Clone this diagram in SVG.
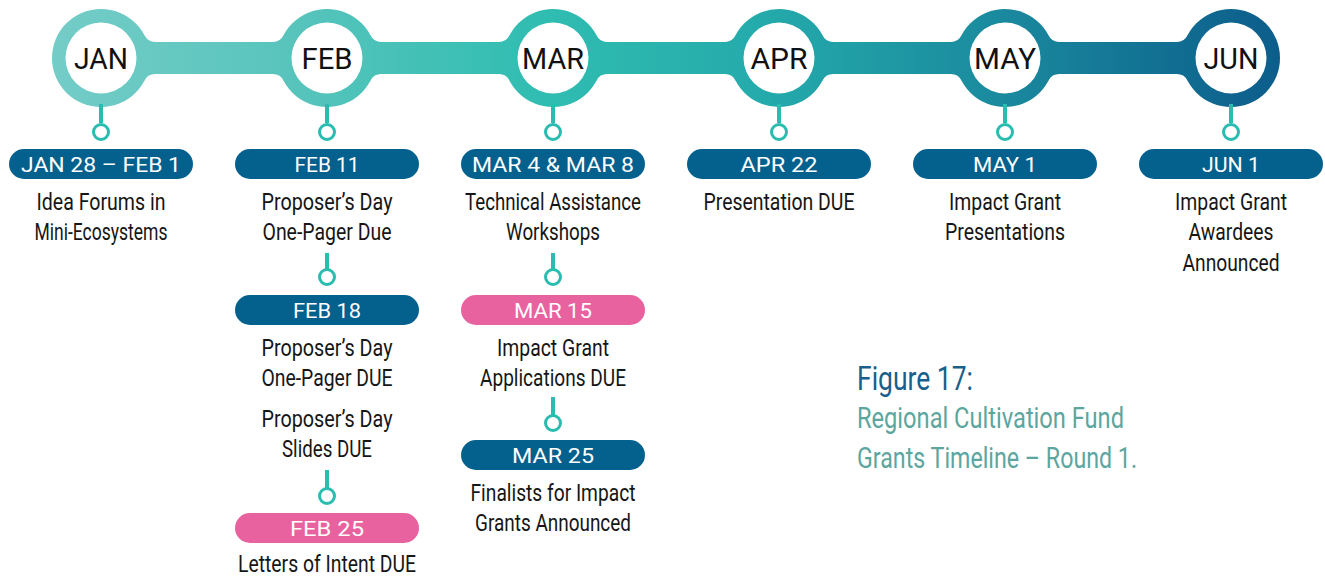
<svg xmlns="http://www.w3.org/2000/svg" width="1325" height="578" viewBox="0 0 1325 578">
<defs>
<linearGradient id="g" gradientUnits="userSpaceOnUse" x1="52" y1="0" x2="1280" y2="0">
<stop offset="0" stop-color="#74ccc7"/>
<stop offset="0.2" stop-color="#57c4bc"/>
<stop offset="0.4" stop-color="#30bdb1"/>
<stop offset="0.58" stop-color="#24aaab"/>
<stop offset="0.77" stop-color="#1a8a9e"/>
<stop offset="1" stop-color="#0c5d8b"/>
</linearGradient>
<style>
.month{font-family:"Roboto","Noto Sans",sans-serif;font-size:30px;fill:#111;text-anchor:middle}
.pill{fill:#04608d}
.pink{fill:#e8629f}
.pt{font-family:"Roboto","Noto Sans",sans-serif;font-weight:400;font-size:21px;fill:#fff;text-anchor:middle}
.bt{font-family:"Roboto","Liberation Sans",sans-serif;font-size:24px;fill:#161616;text-anchor:middle}
.stem{stroke:#2bbcb0;stroke-width:4;fill:none}
.dot{stroke:#2bbcb0;stroke-width:3;fill:#fff}
.inner{fill:#fff}
.fig{font-family:"Roboto","Liberation Sans",sans-serif}
</style>
</defs>

<g id="timeline-bar" fill="url(#g)">
<rect x="101" y="42" width="1130" height="32"/>
<circle cx="101" cy="58" r="49"/>
<circle cx="327" cy="58" r="49"/>
<circle cx="553" cy="58" r="49"/>
<circle cx="779" cy="58" r="49"/>
<circle cx="1005" cy="58" r="49"/>
<circle cx="1231" cy="58" r="49"/>
<path d="M144.53,35.51 A12,12 0 0 0 155.19,42 L101,42 Z M144.53,80.49 A12,12 0 0 1 155.19,74 L101,74 Z"/>
<path d="M370.53,35.51 A12,12 0 0 0 381.19,42 L327,42 Z M370.53,80.49 A12,12 0 0 1 381.19,74 L327,74 Z M283.47,35.51 A12,12 0 0 1 272.81,42 L327,42 Z M283.47,80.49 A12,12 0 0 0 272.81,74 L327,74 Z"/>
<path d="M596.53,35.51 A12,12 0 0 0 607.19,42 L553,42 Z M596.53,80.49 A12,12 0 0 1 607.19,74 L553,74 Z M509.47,35.51 A12,12 0 0 1 498.81,42 L553,42 Z M509.47,80.49 A12,12 0 0 0 498.81,74 L553,74 Z"/>
<path d="M822.53,35.51 A12,12 0 0 0 833.19,42 L779,42 Z M822.53,80.49 A12,12 0 0 1 833.19,74 L779,74 Z M735.47,35.51 A12,12 0 0 1 724.81,42 L779,42 Z M735.47,80.49 A12,12 0 0 0 724.81,74 L779,74 Z"/>
<path d="M1048.53,35.51 A12,12 0 0 0 1059.19,42 L1005,42 Z M1048.53,80.49 A12,12 0 0 1 1059.19,74 L1005,74 Z M961.47,35.51 A12,12 0 0 1 950.81,42 L1005,42 Z M961.47,80.49 A12,12 0 0 0 950.81,74 L1005,74 Z"/>
<path d="M1187.47,35.51 A12,12 0 0 1 1176.81,42 L1231,42 Z M1187.47,80.49 A12,12 0 0 0 1176.81,74 L1231,74 Z"/>
</g>

<g id="connectors">
<line class="stem" x1="101" y1="104" x2="101" y2="123"/>
<line class="stem" x1="327" y1="104" x2="327" y2="123"/>
<line class="stem" x1="553" y1="104" x2="553" y2="123"/>
<line class="stem" x1="779" y1="104" x2="779" y2="123"/>
<line class="stem" x1="1005" y1="104" x2="1005" y2="123"/>
<line class="stem" x1="1231" y1="104" x2="1231" y2="123"/>
<line class="stem" x1="327" y1="253" x2="327" y2="269"/>
<line class="stem" x1="327" y1="470" x2="327" y2="488"/>
<line class="stem" x1="553" y1="253" x2="553" y2="269"/>
<line class="stem" x1="553" y1="397" x2="553" y2="415"/>
<circle class="dot" cx="101" cy="132" r="7.5"/>
<circle class="dot" cx="327" cy="132" r="7.5"/>
<circle class="dot" cx="553" cy="132" r="7.5"/>
<circle class="dot" cx="779" cy="132" r="7.5"/>
<circle class="dot" cx="1005" cy="132" r="7.5"/>
<circle class="dot" cx="1231" cy="132" r="7.5"/>
<circle class="dot" cx="327" cy="277" r="7.5"/>
<circle class="dot" cx="327" cy="496" r="7.5"/>
<circle class="dot" cx="553" cy="277" r="7.5"/>
<circle class="dot" cx="553" cy="423" r="7.5"/>
</g>

<g id="jan">
<circle class="inner" cx="101" cy="58" r="35.5"/>
<text class="month" x="101" y="68.5" textLength="54" lengthAdjust="spacingAndGlyphs">JAN</text>
<rect class="pill" x="9" y="149" width="184" height="30" rx="15"/>
<text class="pt" x="101" y="171.5" textLength="160" lengthAdjust="spacingAndGlyphs">JAN 28 – FEB 1</text>
<text class="bt" x="101" y="210" textLength="129" lengthAdjust="spacingAndGlyphs">Idea Forums in</text>
<text class="bt" x="101" y="240" textLength="133" lengthAdjust="spacingAndGlyphs">Mini-Ecosystems</text>
</g>

<g id="feb">
<circle class="inner" cx="327" cy="58" r="35.5"/>
<text class="month" x="327" y="68.5" textLength="51" lengthAdjust="spacingAndGlyphs">FEB</text>
<rect class="pill" x="235" y="149" width="184" height="30" rx="15"/>
<text class="pt" x="327" y="171.5" textLength="65" lengthAdjust="spacingAndGlyphs">FEB 11</text>
<text class="bt" x="327" y="210" textLength="131" lengthAdjust="spacingAndGlyphs">Proposer’s Day</text>
<text class="bt" x="327" y="240" textLength="129" lengthAdjust="spacingAndGlyphs">One-Pager Due</text>
<rect class="pill" x="235" y="295" width="184" height="30" rx="15"/>
<text class="pt" x="327" y="317.5" textLength="68" lengthAdjust="spacingAndGlyphs">FEB 18</text>
<text class="bt" x="327" y="356" textLength="131" lengthAdjust="spacingAndGlyphs">Proposer’s Day</text>
<text class="bt" x="327" y="386" textLength="131" lengthAdjust="spacingAndGlyphs">One-Pager DUE</text>
<text class="bt" x="327" y="427" textLength="131" lengthAdjust="spacingAndGlyphs">Proposer’s Day</text>
<text class="bt" x="327" y="457" textLength="90" lengthAdjust="spacingAndGlyphs">Slides DUE</text>
<rect class="pink" x="235" y="513" width="184" height="30" rx="15"/>
<text class="pt" x="327" y="535.5" textLength="74" lengthAdjust="spacingAndGlyphs">FEB 25</text>
<text class="bt" x="327" y="572" textLength="178" lengthAdjust="spacingAndGlyphs">Letters of Intent DUE</text>
</g>

<g id="mar">
<circle class="inner" cx="553" cy="58" r="35.5"/>
<text class="month" x="553" y="68.5" textLength="62" lengthAdjust="spacingAndGlyphs">MAR</text>
<rect class="pill" x="461" y="149" width="184" height="30" rx="15"/>
<text class="pt" x="553" y="171.5" textLength="162" lengthAdjust="spacingAndGlyphs">MAR 4 &amp; MAR 8</text>
<text class="bt" x="553" y="210" textLength="176" lengthAdjust="spacingAndGlyphs">Technical Assistance</text>
<text class="bt" x="553" y="240" textLength="94" lengthAdjust="spacingAndGlyphs">Workshops</text>
<rect class="pink" x="461" y="295" width="184" height="30" rx="15"/>
<text class="pt" x="553" y="317.5" textLength="78" lengthAdjust="spacingAndGlyphs">MAR 15</text>
<text class="bt" x="553" y="356" textLength="112" lengthAdjust="spacingAndGlyphs">Impact Grant</text>
<text class="bt" x="553" y="386" textLength="146" lengthAdjust="spacingAndGlyphs">Applications DUE</text>
<rect class="pill" x="461" y="440" width="184" height="30" rx="15"/>
<text class="pt" x="553" y="462.5" textLength="82" lengthAdjust="spacingAndGlyphs">MAR 25</text>
<text class="bt" x="553" y="501" textLength="165" lengthAdjust="spacingAndGlyphs">Finalists for Impact</text>
<text class="bt" x="553" y="531" textLength="156" lengthAdjust="spacingAndGlyphs">Grants Announced</text>
</g>

<g id="apr">
<circle class="inner" cx="779" cy="58" r="35.5"/>
<text class="month" x="779" y="68.5" textLength="57" lengthAdjust="spacingAndGlyphs">APR</text>
<rect class="pill" x="687" y="149" width="184" height="30" rx="15"/>
<text class="pt" x="779" y="171.5" textLength="77" lengthAdjust="spacingAndGlyphs">APR 22</text>
<text class="bt" x="779" y="210" textLength="151" lengthAdjust="spacingAndGlyphs">Presentation DUE</text>
</g>

<g id="may">
<circle class="inner" cx="1005" cy="58" r="35.5"/>
<text class="month" x="1005" y="68.5" textLength="62" lengthAdjust="spacingAndGlyphs">MAY</text>
<rect class="pill" x="913" y="149" width="184" height="30" rx="15"/>
<text class="pt" x="1005" y="171.5" textLength="64" lengthAdjust="spacingAndGlyphs">MAY 1</text>
<text class="bt" x="1005" y="210" textLength="112" lengthAdjust="spacingAndGlyphs">Impact Grant</text>
<text class="bt" x="1005" y="240" textLength="120" lengthAdjust="spacingAndGlyphs">Presentations</text>
</g>

<g id="jun">
<circle class="inner" cx="1231" cy="58" r="35.5"/>
<text class="month" x="1231" y="68.5" textLength="55" lengthAdjust="spacingAndGlyphs">JUN</text>
<rect class="pill" x="1139" y="149" width="184" height="30" rx="15"/>
<text class="pt" x="1231" y="171.5" textLength="58" lengthAdjust="spacingAndGlyphs">JUN 1</text>
<text class="bt" x="1231" y="210" textLength="112" lengthAdjust="spacingAndGlyphs">Impact Grant</text>
<text class="bt" x="1231" y="240" textLength="85" lengthAdjust="spacingAndGlyphs">Awardees</text>
<text class="bt" x="1231" y="271" textLength="97" lengthAdjust="spacingAndGlyphs">Announced</text>
</g>

<g id="caption" class="fig">
<text x="857" y="390" font-size="33" fill="#1a5f8b" textLength="116" lengthAdjust="spacingAndGlyphs">Figure 17:</text>
<text x="857" y="428" font-size="29" fill="#5ba69e" textLength="267" lengthAdjust="spacingAndGlyphs">Regional Cultivation Fund</text>
<text x="857" y="468" font-size="29" fill="#5ba69e" textLength="280" lengthAdjust="spacingAndGlyphs">Grants Timeline – Round 1.</text>
</g>
</svg>
